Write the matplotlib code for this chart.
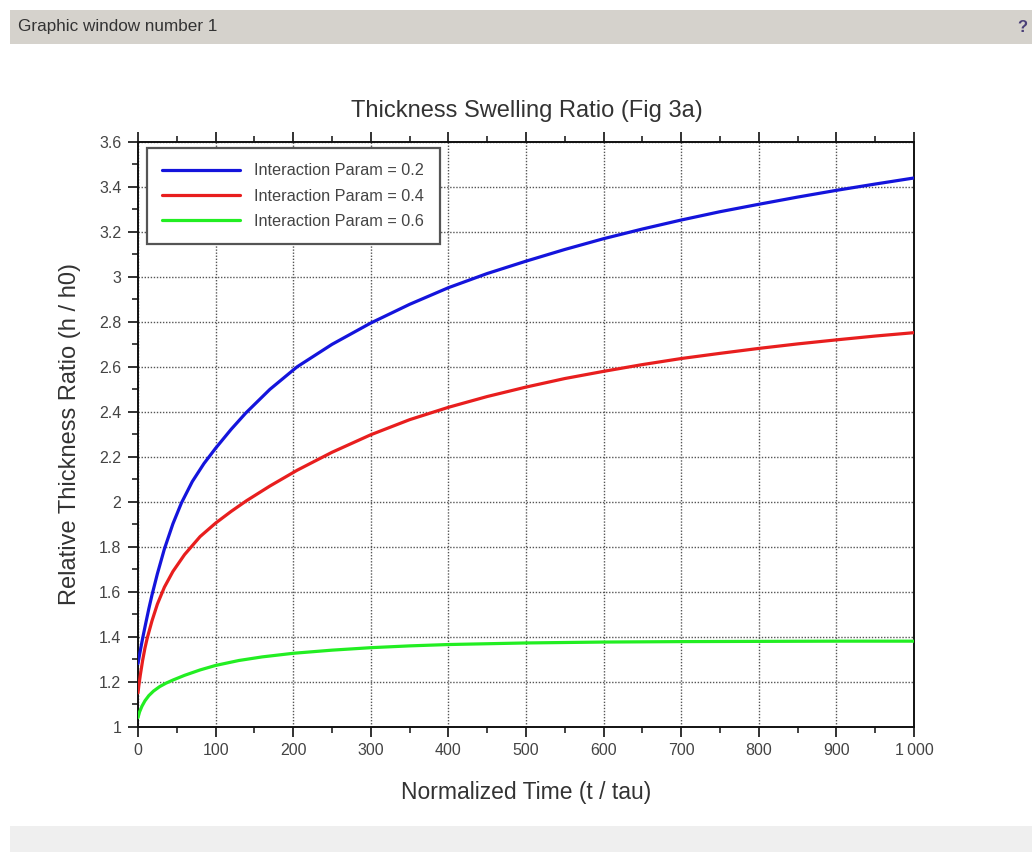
import matplotlib
matplotlib.use("Agg")
import matplotlib.pyplot as plt
from matplotlib.patches import Rectangle
from matplotlib.ticker import MultipleLocator, FixedLocator

plt.rcParams['font.family'] = ['Liberation Sans', 'DejaVu Sans']

# ---- data ----
t_blue = [0, 2, 5, 7, 10, 14, 18, 25, 34, 45, 56, 70, 85, 100, 120, 139, 170, 205, 250,
          300, 350, 400, 450, 500, 550, 600, 650, 700, 750, 800, 850, 900, 950, 1000]
h_blue = [1.28, 1.32, 1.375, 1.41, 1.46, 1.525, 1.585, 1.68, 1.79, 1.902, 1.995, 2.09,
          2.17, 2.238, 2.322, 2.395, 2.50, 2.60, 2.70, 2.795, 2.878, 2.952, 3.015, 3.07,
          3.122, 3.17, 3.213, 3.253, 3.29, 3.323, 3.355, 3.385, 3.413, 3.44]

t_red = [0, 1, 3, 6, 9, 12, 18, 25, 34, 45, 60, 80, 100, 120, 140, 170, 205, 250, 300,
         350, 400, 450, 500, 550, 600, 650, 700, 750, 800, 850, 900, 950, 1000]
h_red = [1.15, 1.18, 1.23, 1.295, 1.35, 1.395, 1.47, 1.545, 1.62, 1.69, 1.765, 1.845,
         1.905, 1.957, 2.005, 2.07, 2.14, 2.22, 2.298, 2.365, 2.42, 2.468, 2.51, 2.548,
         2.58, 2.61, 2.637, 2.66, 2.682, 2.702, 2.72, 2.737, 2.752]

t_green = [0, 2, 5, 9, 14, 20, 28, 36, 45, 60, 80, 100, 130, 160, 200, 250, 300, 350,
           400, 500, 600, 700, 800, 900, 1000]
h_green = [1.04, 1.065, 1.09, 1.115, 1.138, 1.158, 1.178, 1.193, 1.207, 1.228, 1.252,
           1.272, 1.294, 1.31, 1.326, 1.34, 1.351, 1.359, 1.365, 1.372, 1.376, 1.378,
           1.379, 1.38, 1.38]

series_labels = ["Interaction Param = 0.2", "Interaction Param = 0.4",
                 "Interaction Param = 0.6"]
x_ticks = [0, 100, 200, 300, 400, 500, 600, 700, 800, 900, 1000]
x_ticklabels = ["0", "100", "200", "300", "400", "500", "600", "700", "800", "900",
                "1\u2009000"]
y_ticks = [1, 1.2, 1.4, 1.6, 1.8, 2, 2.2, 2.4, 2.6, 2.8, 3, 3.2, 3.4, 3.6]
y_ticklabels = ["1", "1.2", "1.4", "1.6", "1.8", "2", "2.2", "2.4", "2.6", "2.8", "3",
                "3.2", "3.4", "3.6"]

W, H = 1032, 852
fig = plt.figure(figsize=(W / 100, H / 100), dpi=100)
fig.patch.set_facecolor('white')

# window chrome
fig.patches.append(Rectangle((10 / W, 1 - 44 / H), 1 - 10 / W, 34 / H,
                             transform=fig.transFigure, facecolor='#d5d2cc',
                             edgecolor='none', zorder=0))
fig.patches.append(Rectangle((10 / W, 0), 1 - 10 / W, 26 / H,
                             transform=fig.transFigure, facecolor='#efefef',
                             edgecolor='none', zorder=0))
fig.text(18 / W, 1 - 27 / H, "Graphic window number 1", fontsize=12.3, color='#333333',
         ha='left', va='center')
fig.text(1022 / W, 1 - 28 / H, "?", fontsize=12, color='#4a3f78', fontweight='bold',
         ha='center', va='center')

ax = fig.add_axes([138 / W, 1 - 726.6 / H, 776 / W, 584.6 / H])
style = dict(lw=2.3, solid_joinstyle='round', solid_capstyle='round', zorder=3)
ax.plot(t_blue, h_blue, color='#1414dc', label=series_labels[0], **style)
ax.plot(t_red, h_red, color='#e81e1e', label=series_labels[1], **style)
ax.plot(t_green, h_green, color='#22ee22', label=series_labels[2], **style)

ax.set_xlim(0, 1000)
ax.set_ylim(1, 3.6)
ax.xaxis.set_major_locator(FixedLocator(x_ticks))
ax.set_xticklabels(x_ticklabels)
ax.yaxis.set_major_locator(FixedLocator(y_ticks))
ax.set_yticklabels(y_ticklabels)
ax.xaxis.set_minor_locator(MultipleLocator(50))
ax.yaxis.set_minor_locator(MultipleLocator(0.1))

ax.tick_params(which='major', direction='out', length=7, width=1.3, colors='#222222',
               labelsize=11.5, labelcolor='#444444', pad=5)
ax.tick_params(which='minor', direction='out', length=4, width=1.2, colors='#222222')
ax.tick_params(axis='x', which='both', top=True)

ax.grid(True, which='major', color='#555555', linestyle=(0, (1, 1.2)), linewidth=1.0,
        zorder=1)
for s in ax.spines.values():
    s.set_linewidth(1.4)
    s.set_color('#111111')

ax.set_xlabel("Normalized Time (t / tau)", fontsize=16.5, color='#333333')
ax.set_ylabel("Relative Thickness Ratio (h / h0)", fontsize=17, color='#333333')
ax.xaxis.set_label_coords(0.5, -0.093)
ax.xaxis.label.set_va('top')
ax.yaxis.set_label_coords(-0.074, 0.5)

fig.text(527 / W, 1 - 117 / H, "Thickness Swelling Ratio (Fig 3a)", fontsize=17,
         color='#333333', ha='center', va='baseline')

leg = ax.legend(loc='upper left', bbox_to_anchor=(9 / 776, 1 - 6 / 584.6),
                borderaxespad=0, fontsize=11.7, handlelength=4.8, handletextpad=0.85,
                labelspacing=0.62, borderpad=0.95, fancybox=False, framealpha=1,
                edgecolor='#555555')
leg.get_frame().set_linewidth(1.6)
for txt in leg.get_texts():
    txt.set_color('#444444')
for ln in leg.get_lines():
    ln.set_linewidth(2.3)

fig.savefig("out.png", dpi=100)
